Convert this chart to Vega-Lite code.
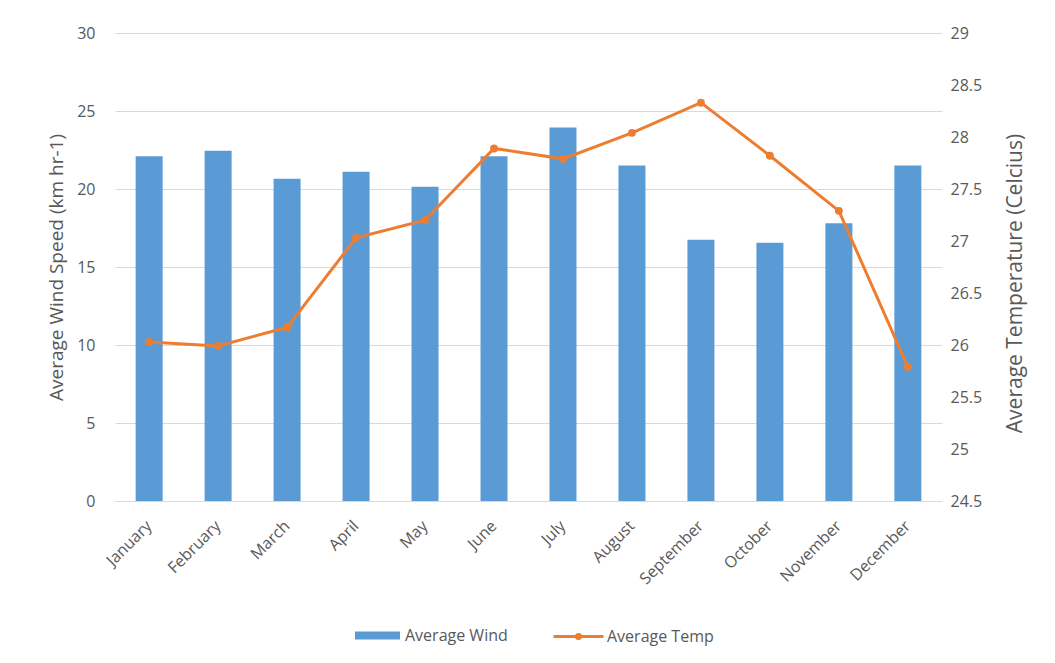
{
  "$schema": "https://vega.github.io/schema/vega-lite/v6.json",
  "width": 827,
  "height": 468,
  "autosize": {"type": "none"},
  "padding": {"left": 115, "top": 33, "right": 113, "bottom": 162},
  "background": "white",
  "config": {
    "font": "Open Sans",
    "view": {"stroke": null},
    "axis": {"labelColor": "#595959", "titleColor": "#595959", "labelFontSize": 16, "titleFontSize": 19, "titleFontWeight": "normal", "labelFont": "Open Sans", "titleFont": "Open Sans", "ticks": false, "domain": false},
    "legend": {"labelColor": "#595959", "labelFontSize": 16, "labelFont": "Open Sans", "padding": 0}
  },
  "data": {"values": [
    {"month": "January", "wind": 22.1, "temp": 26.03},
    {"month": "February", "wind": 22.45, "temp": 25.99},
    {"month": "March", "wind": 20.65, "temp": 26.17},
    {"month": "April", "wind": 21.1, "temp": 27.03},
    {"month": "May", "wind": 20.15, "temp": 27.2},
    {"month": "June", "wind": 22.1, "temp": 27.89},
    {"month": "July", "wind": 23.95, "temp": 27.79},
    {"month": "August", "wind": 21.5, "temp": 28.04},
    {"month": "September", "wind": 16.75, "temp": 28.33},
    {"month": "October", "wind": 16.55, "temp": 27.82},
    {"month": "November", "wind": 17.8, "temp": 27.29},
    {"month": "December", "wind": 21.5, "temp": 25.79}
  ]},
  "encoding": {
    "x": {"field": "month", "type": "nominal", "sort": null,
      "scale": {"paddingInner": 0.61, "paddingOuter": 0.3},
      "axis": {"title": null, "labelAngle": -45, "labelAlign": "right", "labelBaseline": "middle", "labelPadding": 22, "domain": true, "domainColor": "#d9d9d9", "domainWidth": 1}}
  },
  "layer": [
    {
      "mark": {"type": "bar", "size": 27},
      "encoding": {
        "y": {"field": "wind", "type": "quantitative",
          "scale": {"domain": [0, 30]},
          "axis": {"title": "Average Wind Speed (km hr-1)", "values": [0, 5, 10, 15, 20, 25, 30], "grid": true, "gridColor": "#d9d9d9", "labelPadding": 20, "titlePadding": 10}},
        "color": {"datum": "Average Wind", "type": "nominal",
          "scale": {"domain": ["Average Wind"], "range": ["#5b9bd5"]},
          "legend": {"title": null, "orient": "none", "legendX": 240, "legendY": 580, "symbolType": "M-1,-0.18H1V0.18H-1Z", "symbolSize": 2025, "symbolStrokeWidth": 0, "labelOffset": 5}}
      }
    },
    {
      "mark": {"type": "line", "strokeWidth": 3, "point": {"size": 35, "filled": true}},
      "encoding": {
        "y": {"field": "temp", "type": "quantitative",
          "scale": {"domain": [24.5, 29], "zero": false},
          "axis": {"title": "Average Temperature (Celcius)", "orient": "right", "format": "~g", "values": [24.5, 25, 25.5, 26, 26.5, 27, 27.5, 28, 28.5, 29], "grid": false, "labelPadding": 8, "titleAngle": -90, "titlePadding": 44, "titleFontSize": 21, "titleY": 250}},
        "stroke": {"datum": "Average Temp", "type": "nominal",
          "scale": {"domain": ["Average Temp"], "range": ["#ed7d31"]},
          "legend": {"title": null, "orient": "none", "legendX": 437, "legendY": 577, "symbolType": "M-1,0H1M-0.08,0A0.08,0.08 0 1,0 0.08,0A0.08,0.08 0 1,0 -0.08,0Z", "symbolSize": 2500, "symbolStrokeWidth": 3, "symbolFillColor": "#ed7d31", "labelOffset": 2}},
        "color": {"value": "#ed7d31"}
      }
    }
  ],
  "resolve": {"scale": {"y": "independent", "color": "independent"}, "legend": {"color": "independent", "stroke": "independent"}}
}
